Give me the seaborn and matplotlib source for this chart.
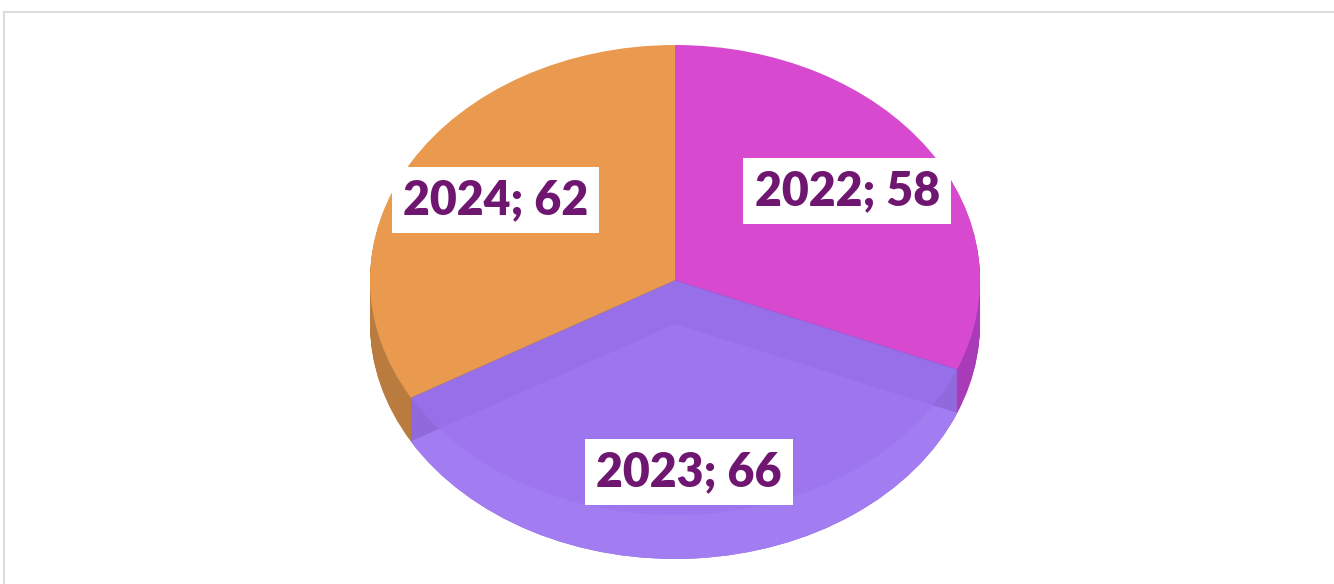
import numpy as np
import matplotlib
matplotlib.use("Agg")
import matplotlib.pyplot as plt
import matplotlib.colors as mcolors
from matplotlib.patches import Rectangle
import seaborn as sns

# ---- data ----
years = ["2022", "2023", "2024"]
values = [58, 66, 62]
top_hex = ["#D74ACF", "#9B72EE", "#E99A4E"]

sns.set_theme(style="white")
plt.rcParams['font.family'] = ['Lato', 'DejaVu Sans']

W, H = 1334, 584
fig = plt.figure(figsize=(W / 100, H / 100), dpi=100)
ax = fig.add_axes([0, 0, 1, 1])

palette = sns.color_palette(top_hex)
shade = [0.75, 0.93, 0.8]
side_cols = [tuple(np.clip(np.array(c) * s, 0, 1)) for c, s in zip(palette, shade)]
side_cols[0] = mcolors.to_rgb("#A93AB8")
purple_bottom = mcolors.to_rgb("#A27DF2")

depth = 0.187
nlayers = 40
start = 90

# side (extrusion) layers, bottom to top
for k in range(nlayers, 0, -1):
    off = -depth * k / nlayers
    wedges, _ = ax.pie(values, colors=side_cols, startangle=start, counterclock=False,
                       center=(0, off), radius=1.0, wedgeprops=dict(linewidth=0))
# purple bottom face, seen through translucent top
wedges, _ = ax.pie(values, colors=[(0, 0, 0, 0), purple_bottom, (0, 0, 0, 0)],
                   startangle=start, counterclock=False, center=(0, -depth),
                   radius=1.0, wedgeprops=dict(linewidth=0))
# top faces
top_cols = [mcolors.to_rgba(palette[0], 1.0),
            mcolors.to_rgba(palette[1], 0.7),
            mcolors.to_rgba(palette[2], 1.0)]
wedges, _ = ax.pie(values, colors=top_cols, startangle=start, counterclock=False,
                   center=(0, 0), radius=1.0, wedgeprops=dict(linewidth=0))

# labels
total = sum(values)
ang = start
for yr, v in zip(years, values):
    span = 360 * v / total
    mid = np.deg2rad(ang - span / 2)
    ang -= span
    r = 0.68
    x = r * np.cos(mid)
    y = r * np.sin(mid) + min(0, np.sin(mid)) * 0.75 * depth
    ax.text(x, y, f"{yr}; {v}", ha="center", va="center", fontsize=33.5,
            fontweight="heavy", color="#6E1670",
            bbox=dict(boxstyle="square,pad=0.24", facecolor="white",
                      edgecolor="none"))

# map unit circle to ellipse in pixel space
cx, cy, rx, ry = 675, 280, 305, 235
ax.set_aspect("auto")
ax.set_xlim(-cx / rx, (W - cx) / rx)
ax.set_ylim(-(H - cy) / ry, cy / ry)
ax.axis("off")

# outer frame
fig.patches.append(Rectangle((4 / W, -0.1), 1.2, (H - 12) / H + 0.1,
                             transform=fig.transFigure, fill=False,
                             edgecolor="#DCDCDC", linewidth=1.5))

fig.savefig("out.png", dpi=100, facecolor="white")
